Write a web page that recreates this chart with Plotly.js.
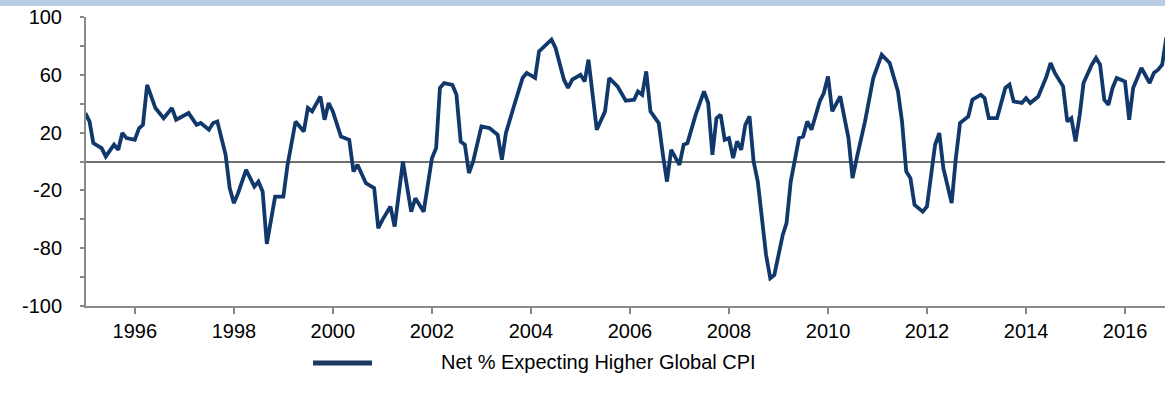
<!DOCTYPE html>
<html>
<head>
<meta charset="utf-8">
<script src="https://cdn.plot.ly/plotly-3.0.1.min.js"></script>
<style>
  html, body { margin: 0; padding: 0; background: #fff; }
  #wrap { position: relative; width: 1165px; height: 395px; overflow: hidden; }
  #band { position: absolute; left: 0; top: 0; width: 1165px; height: 6px; background: #b8cce4; z-index: 5; }
  #chart { position: absolute; left: 0; top: 0; width: 1165px; height: 395px; }
</style>
</head>
<body>
<div id="wrap"><div id="band"></div><div id="chart"></div></div>
<script>
const seriesName = "Net % Expecting Higher Global CPI";
const months = [
"1995-01","1995-02","1995-03","1995-05","1995-06","1995-08","1995-09","1995-10","1995-11",
"1996-01","1996-02","1996-03","1996-04","1996-05","1996-06","1996-08","1996-10","1996-11",
"1997-02","1997-04","1997-05","1997-07","1997-08","1997-09","1997-11","1997-12",
"1998-01","1998-02","1998-04","1998-06","1998-07","1998-08","1998-09","1998-11",
"1999-01","1999-02","1999-03","1999-04","1999-06","1999-07","1999-08","1999-10","1999-11","1999-12",
"2000-01","2000-03","2000-05","2000-06","2000-07","2000-09","2000-11","2000-12",
"2001-01","2001-03","2001-04","2001-06","2001-08","2001-09","2001-11",
"2002-01","2002-02","2002-03","2002-04","2002-06","2002-07","2002-08","2002-09","2002-10","2002-11",
"2003-01","2003-03","2003-05","2003-06","2003-07","2003-09","2003-11","2003-12",
"2004-02","2004-03","2004-06","2004-07","2004-09","2004-10","2004-11",
"2005-01","2005-02","2005-03","2005-04","2005-05","2005-07","2005-08","2005-10","2005-12",
"2006-02","2006-03","2006-04","2006-05","2006-06","2006-08","2006-09","2006-10","2006-11","2006-12",
"2007-01","2007-02","2007-03","2007-05","2007-07","2007-08","2007-09","2007-10","2007-11","2007-12",
"2008-01","2008-02","2008-03","2008-04","2008-05","2008-06","2008-07","2008-08","2008-09","2008-10","2008-11","2008-12",
"2009-02","2009-03","2009-04","2009-06","2009-07","2009-08","2009-09","2009-10","2009-11","2009-12",
"2010-01","2010-02","2010-04","2010-06","2010-07","2010-08","2010-10","2010-12",
"2011-02","2011-04","2011-06","2011-07","2011-08","2011-09","2011-10","2011-12",
"2012-01","2012-03","2012-04","2012-05","2012-07","2012-08","2012-09","2012-11","2012-12",
"2013-02","2013-03","2013-04","2013-06","2013-08","2013-09","2013-10","2013-12",
"2014-01","2014-02","2014-04","2014-06","2014-07","2014-08","2014-10","2014-11","2014-12",
"2015-01","2015-02","2015-03","2015-05","2015-06","2015-07","2015-08","2015-09","2015-10","2015-11",
"2016-01","2016-02","2016-03","2016-04","2016-05","2016-07","2016-08","2016-09","2016-10","2016-11"
];
const netExpectingHigherCPI = [
33.5,27.7,12.7,9.3,3.5,11.6,8.1,19.7,16.2,
15,23,25.4,53,45,37,30,37,28.9,
33.5,25.4,26.6,22,26.6,27.7,4.6,-18.4,
-28.8,-21.9,-5.8,-17.3,-13.9,-20.8,-57,-24.3,
-24.3,-2.3,11.6,27.7,20.8,37,34.7,45,28.9,40.5,
34.7,17.3,15,-6.9,-2.3,-15,-18.4,-46.2,
-40.4,-31.2,-45,0,-34.7,-25.4,-34.7,
2.3,9.3,50.9,54.3,53,46.2,13.9,11.6,-8,0,
24.3,23.1,18.5,1.2,19.7,39.3,57.8,61.3,
57.8,76.2,84.3,78.6,56.6,50.9,56.6,
60,55.4,70.5,43.9,22,34.7,57.8,52,42,
42.8,48.5,46.2,62.4,34.7,26.6,4.6,-13.9,8.1,3.5,
-2.3,11.6,12.7,32.4,48.5,40.5,4.6,30,32.4,15,
16.2,2.3,13.9,8.1,25.4,31.2,0,-13.9,-41.6,-64.7,-80.8,-78.5,
-50.8,-42.7,-13.9,16.2,17.3,27.7,22,32.4,41.6,47.4,
58.9,34.7,45,16.2,-11.5,2.3,27.7,57.8,
73.9,68.2,48.5,27.7,-6.9,-11.5,-30,-34.7,
-31.2,11.6,19.7,-4.6,-28.8,2.3,26.6,31.2,42.8,
46.2,43.9,30,30,50.9,53.2,41.6,40.5,
43.9,40.5,45,58.9,68.2,61.3,52,27.7,30,
13.9,32.4,54.3,67,71.7,67,42.8,39.3,50.9,57.8,
55.4,28.9,50.9,57.8,64.7,54.3,61.3,63.5,67,86
];
const yTickValues = [-100,-80,-60,-40,-20,0,20,40,60,80,100];
const yTickLabels = ["-100","","-80","","-20","","20","","60","","100"];

const font = "Liberation Sans, Arial, sans-serif";
const lineColor = "#11386b";
const trace = {
  x: months, y: netExpectingHigherCPI, type: "scatter", mode: "lines",
  name: seriesName, showlegend: false,
  line: { color: lineColor, width: 3.8, shape: "linear" },
  hoverinfo: "x+y"
};
// legend drawn in paper coordinates (plot area: 86..1165 px wide, 17..306 px tall)
const pxX = p => (p - 86) / 1079;
const pxY = p => (306 - p) / 289;
const layout = {
  width: 1165, height: 395,
  margin: { l: 86, r: 0, t: 17, b: 89 },
  paper_bgcolor: "#ffffff", plot_bgcolor: "#ffffff",
  font: { family: font, size: 20, color: "#000" },
  showlegend: false,
  shapes: [{
    type: "line", xref: "paper", yref: "paper",
    x0: pxX(313), x1: pxX(372), y0: pxY(363), y1: pxY(363),
    line: { color: "#1b3a63", width: 5 }
  }],
  annotations: [{
    xref: "paper", yref: "paper", x: pxX(439), y: pxY(362),
    xanchor: "left", yanchor: "middle", showarrow: false,
    text: seriesName, font: { family: font, size: 20, color: "#000" }
  }],
  xaxis: {
    type: "date", range: ["1995-01-06", "2016-10-22"],
    tickmode: "linear", tick0: "1996-01-01", dtick: "M24", tickformat: "%Y",
    ticks: "outside", ticklen: 6, tickwidth: 2, tickcolor: "#888",
    showline: true, linecolor: "#8a8a8a", linewidth: 2,
    showgrid: false, zeroline: false,
    tickfont: { family: font, size: 20, color: "#000" }
  },
  yaxis: {
    range: [-100, 100], tickmode: "array", tickvals: yTickValues, ticktext: yTickLabels,
    ticks: "outside", ticklen: 4, tickwidth: 2, tickcolor: "#888",
    showline: true, linecolor: "#8a8a8a", linewidth: 2,
    showgrid: false, zeroline: true, zerolinecolor: "#6e6e6e", zerolinewidth: 2,
    tickfont: { family: font, size: 20, color: "#000" }, ticklabelstandoff: 14
  }
};
Plotly.newPlot("chart", [trace], layout, { displayModeBar: false, staticPlot: true });
</script>
</body>
</html>
